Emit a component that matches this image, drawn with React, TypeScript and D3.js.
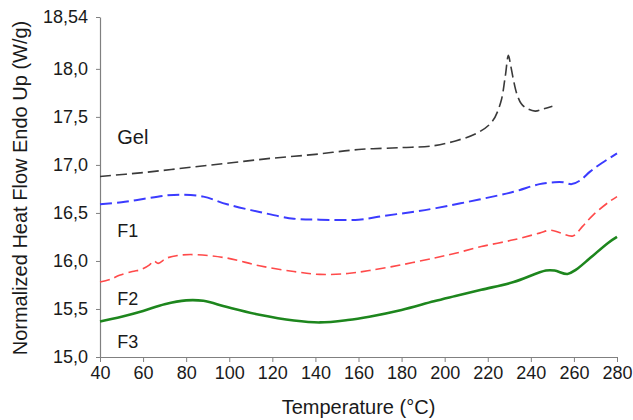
import * as d3 from 'd3';
import React, { useRef, useEffect } from 'react';

// DSC curves: [temperature °C, heat flow W/g]
const gelData: [number, number][] = [
  [40, 16.88], [60, 16.92], [80, 16.97], [100, 17.02], [120, 17.07], [140, 17.11],
  [160, 17.16], [180, 17.18], [195, 17.2], [205, 17.25], [215, 17.33], [222, 17.45],
  [226, 17.65], [228, 17.9], [229.6, 18.14], [230.6, 18.04], [231.8, 17.9], [233.5, 17.74],
  [235.5, 17.64], [238, 17.59], [242, 17.56], [245.5, 17.58], [250, 17.61],
];
const f1Data: [number, number][] = [
  [40, 16.59], [50, 16.61], [60, 16.645], [70, 16.68], [78, 16.69], [88, 16.67],
  [99, 16.59], [114, 16.51], [130, 16.44], [142, 16.43], [160, 16.43], [172, 16.47],
  [185, 16.51], [196, 16.55], [216, 16.64], [232, 16.72], [244, 16.8], [251, 16.82],
  [255, 16.82], [259, 16.8], [263, 16.84], [267.5, 16.93], [273, 17.02], [280, 17.12],
];
const f2Data: [number, number][] = [
  [40, 15.78], [45, 15.81], [49, 15.85], [55, 15.89], [59, 15.91], [63, 15.96], [65, 16.0],
  [67, 15.975], [71, 16.03], [77, 16.06], [85, 16.065], [99, 16.03], [114, 15.95],
  [130, 15.89], [142, 15.86], [155, 15.87], [165, 15.9], [180, 15.96], [195, 16.03],
  [205, 16.08], [217, 16.15], [232, 16.22], [244, 16.29], [249, 16.32], [254, 16.29],
  [259.5, 16.26], [264, 16.36], [269, 16.48], [276, 16.61], [280, 16.67],
];
const f3Data: [number, number][] = [
  [40, 15.37], [50, 15.42], [60, 15.48], [70, 15.55], [80, 15.59], [88, 15.585],
  [99, 15.52], [114, 15.44], [130, 15.38], [142, 15.36], [155, 15.385], [165, 15.42],
  [180, 15.49], [195, 15.58], [205, 15.635], [217, 15.7], [232, 15.78], [247, 15.9],
  [251, 15.9], [257, 15.865], [261, 15.91], [267.5, 16.03], [276, 16.19], [280, 16.25],
];

const xTicks = [40, 60, 80, 100, 120, 140, 160, 180, 200, 220, 240, 260, 280];
const yTicks = [15.0, 15.5, 16.0, 16.5, 17.0, 17.5, 18.0, 18.54];
const yTickLabels = ['15,0', '15,5', '16,0', '16,5', '17,0', '17,5', '18,0', '18,54'];

const series = [
  { name: 'Gel', data: gelData, color: '#3a3a3a', width: 1.6, dash: '11,5' },
  { name: 'F1', data: f1Data, color: '#3b3bff', width: 2, dash: '12,5' },
  { name: 'F2', data: f2Data, color: '#ff4a4a', width: 1.6, dash: '10,5' },
  { name: 'F3', data: f3Data, color: '#1d861d', width: 2.6, dash: null },
];

// label positions in data units (temperature, heat flow)
const labels = [
  { text: 'Gel', t: 48, v: 17.22, size: 20 },
  { text: 'F1', t: 48, v: 16.25, size: 18 },
  { text: 'F2', t: 48, v: 15.54, size: 18 },
  { text: 'F3', t: 48, v: 15.09, size: 18 },
];

const W = 633, H = 420;
const margin = { top: 17, right: 16, bottom: 63, left: 100 };
const FONT = 'Arial, "Liberation Sans", sans-serif';

const App = () => {
  const ref = useRef<SVGSVGElement>(null);

  useEffect(() => {
    const svg = d3.select(ref.current);
    svg.selectAll('*').remove();

    const x = d3.scaleLinear().domain([40, 280]).range([margin.left, W - margin.right]);
    const y = d3.scaleLinear().domain([15, 18.54]).range([H - margin.bottom, margin.top]);

    // Y axis
    const yAxis = svg.append('g')
      .attr('transform', 'translate(' + margin.left + ',0)')
      .call(d3.axisLeft(y).tickValues(yTicks).tickSize(4).tickSizeOuter(0)
        .tickFormat((d, i) => yTickLabels[i]));
    yAxis.select('.domain').attr('stroke', '#808080').attr('stroke-width', 1.2);
    yAxis.selectAll('.tick line').attr('stroke', '#808080');
    yAxis.selectAll('.tick text')
      .attr('x', -12)
      .attr('fill', '#1a1a1a')
      .style('font-family', FONT)
      .style('font-size', '18px');

    // X axis
    const xAxis = svg.append('g')
      .attr('transform', 'translate(0,' + (H - margin.bottom) + ')')
      .call(d3.axisBottom(x).tickValues(xTicks).tickSize(5).tickSizeOuter(0));
    xAxis.select('.domain').attr('stroke', '#808080').attr('stroke-width', 1.2);
    xAxis.selectAll('.tick line').attr('stroke', '#808080');
    xAxis.selectAll('.tick text')
      .attr('y', 9)
      .attr('fill', '#1a1a1a')
      .style('font-family', FONT)
      .style('font-size', '18px');

    // curves
    const line = d3.line<[number, number]>()
      .x((d) => x(d[0]))
      .y((d) => y(d[1]))
      .curve(d3.curveCatmullRom.alpha(0.5));

    series.forEach((s) => {
      svg.append('path')
        .datum(s.data)
        .attr('fill', 'none')
        .attr('stroke', s.color)
        .attr('stroke-width', s.width)
        .attr('stroke-dasharray', s.dash)
        .attr('stroke-linejoin', 'round')
        .attr('d', line);
    });

    // handmade series labels
    labels.forEach((l) => {
      svg.append('text')
        .attr('x', x(l.t))
        .attr('y', y(l.v))
        .text(l.text)
        .style('font-family', FONT)
        .style('font-size', l.size + 'px')
        .attr('fill', '#1a1a1a');
    });

    // axis titles
    svg.append('text')
      .attr('x', (margin.left + W - margin.right) / 2)
      .attr('y', 414)
      .attr('text-anchor', 'middle')
      .text('Temperature (°C)')
      .style('font-family', FONT)
      .style('font-size', '20px')
      .attr('fill', '#1a1a1a');

    svg.append('text')
      .attr('transform', 'translate(27,188) rotate(-90)')
      .attr('text-anchor', 'middle')
      .text('Normalized Heat Flow Endo Up (W/g)')
      .style('font-family', FONT)
      .style('font-size', '20px')
      .attr('fill', '#1a1a1a');
  });

  return (
    <svg
      ref={ref}
      width={W}
      height={H}
      style={{ position: 'absolute', left: 0, top: 0, background: '#fff' }}
    ></svg>
  );
};

export default App;
